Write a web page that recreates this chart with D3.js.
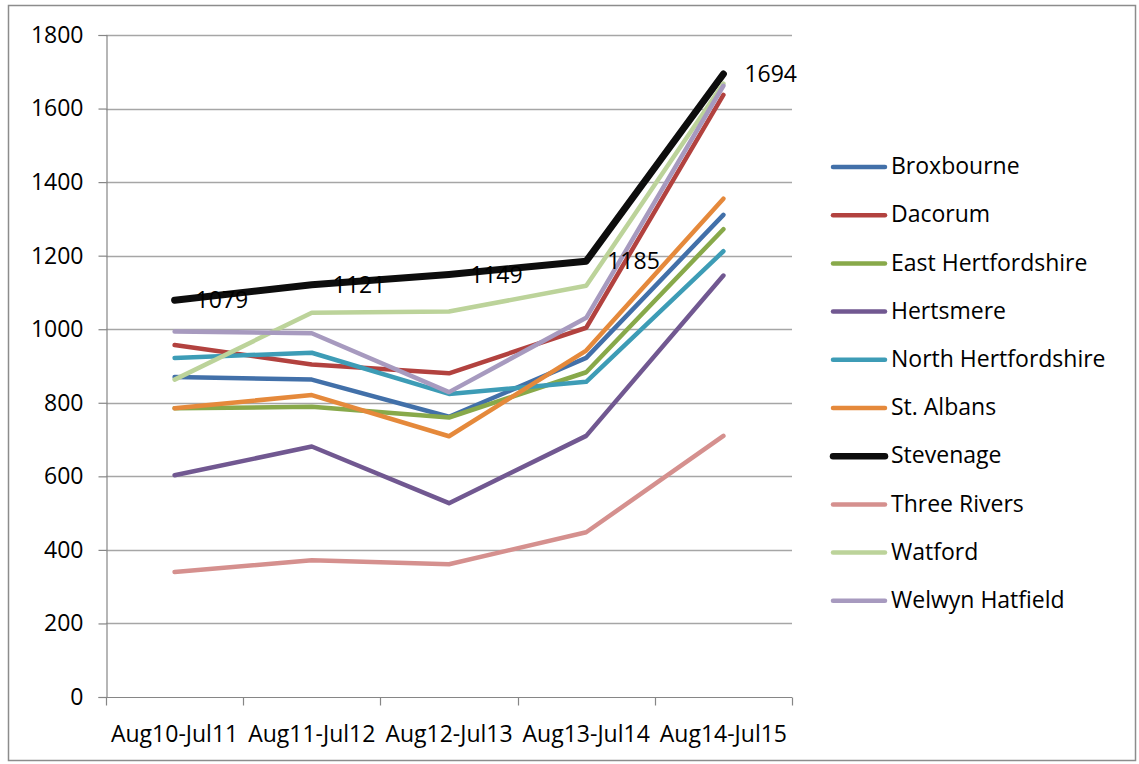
<!DOCTYPE html>
<html>
<head>
<meta charset="utf-8">
<script src="https://cdn.jsdelivr.net/npm/d3@7"></script>
<style>
  html, body { margin: 0; padding: 0; background: #fff; }
  svg { display: block; }
  text { font-family: "Open Sans", "Liberation Sans", sans-serif; fill: #000; }
</style>
</head>
<body>
<svg id="chart" width="1139" height="764"></svg>
<script>
// Periods on the x axis
const periods = ["Aug10-Jul11", "Aug11-Jul12", "Aug12-Jul13", "Aug13-Jul14", "Aug14-Jul15"];

// District names (legend order)
const districts = ["Broxbourne", "Dacorum", "East Hertfordshire", "Hertsmere", "North Hertfordshire",
                   "St. Albans", "Stevenage", "Three Rivers", "Watford", "Welwyn Hatfield"];

// Values per district, one per period
const broxbourne   = [870, 863, 762, 922, 1311];
const dacorum      = [957, 904, 880, 1004, 1637];
const eastHerts    = [785, 789, 760, 883, 1272];
const hertsmere    = [603, 681, 527, 710, 1146];
const northHerts   = [922, 936, 824, 857, 1212];
const stAlbans     = [785, 821, 709, 942, 1355];
const stevenage    = [1079, 1121, 1149, 1185, 1694];
const threeRivers  = [340, 372, 361, 448, 710];
const watford      = [863, 1045, 1048, 1118, 1668];
const welwyn       = [994, 989, 829, 1031, 1662];

const seriesValues = [broxbourne, dacorum, eastHerts, hertsmere, northHerts,
                      stAlbans, stevenage, threeRivers, watford, welwyn];

const seriesColors = ["#4270A9", "#B2423F", "#88A94A", "#715891", "#3D9CB6",
                      "#E5893B", "#0D0D0D", "#D5908E", "#BCD39A", "#A79ABF"];

// Only Stevenage carries value labels
const labelled = "Stevenage";

// Y axis ticks
const yTicks = [0, 200, 400, 600, 800, 1000, 1200, 1400, 1600, 1800];

const fontSize = "23px";

const svg = d3.select("#chart");

// Outer chart frame
svg.append("rect")
  .attr("x", 8.5).attr("y", 5.5)
  .attr("width", 1127).attr("height", 755)
  .attr("fill", "#fff").attr("stroke", "#8c8c8c").attr("stroke-width", 1.5);

const plot = { left: 106, right: 792, top: 35, bottom: 697 };

const x = d3.scaleBand().domain(periods).range([plot.left, plot.right]).padding(0);
const y = d3.scaleLinear().domain([0, 1800]).range([plot.bottom, plot.top]);

// Horizontal gridlines
svg.append("g")
  .selectAll("line")
  .data(yTicks.filter(t => t > 0))
  .join("line")
  .attr("x1", plot.left).attr("x2", plot.right)
  .attr("y1", d => Math.round(y(d)) + 0.5).attr("y2", d => Math.round(y(d)) + 0.5)
  .attr("stroke", "#a6a6a6").attr("stroke-width", 1.3);

// Y axis
const yAxis = svg.append("g")
  .attr("transform", `translate(${plot.left + 0.5},0)`)
  .call(d3.axisLeft(y).tickValues(yTicks).tickSize(8).tickPadding(15).tickFormat(d3.format("d")));
yAxis.select(".domain").attr("stroke", "#868686").attr("stroke-width", 1.2);
yAxis.selectAll(".tick line").attr("stroke", "#868686").attr("stroke-width", 1.2);
yAxis.selectAll(".tick text")
  .style("font-family", "'Open Sans', sans-serif")
  .style("font-size", fontSize).attr("fill", "#000");

// X axis: ticks sit on the band boundaries, labels at band centres
const xAxisG = svg.append("g").attr("transform", `translate(0,${plot.bottom + 0.5})`);
xAxisG.append("line")
  .attr("x1", plot.left).attr("x2", plot.right)
  .attr("stroke", "#868686").attr("stroke-width", 1.2);
const boundaries = periods.map(p => x(p)).concat([x(periods[periods.length - 1]) + x.bandwidth()]);
xAxisG.selectAll("line.tk")
  .data(boundaries)
  .join("line")
  .attr("class", "tk")
  .attr("x1", d => Math.round(d) + 0.5).attr("x2", d => Math.round(d) + 0.5)
  .attr("y1", 0).attr("y2", 8)
  .attr("stroke", "#868686").attr("stroke-width", 1.2);
xAxisG.selectAll("text")
  .data(periods)
  .join("text")
  .attr("x", d => x(d) + x.bandwidth() / 2)
  .attr("y", 44)
  .attr("text-anchor", "middle")
  .style("font-size", fontSize)
  .text(d => d);

// Series lines
const line = d3.line()
  .x((d, i) => x(periods[i]) + x.bandwidth() / 2)
  .y(d => y(d));

const linesG = svg.append("g");
districts.forEach((name, k) => {
  linesG.append("path")
    .datum(seriesValues[k])
    .attr("d", line)
    .attr("fill", "none")
    .attr("stroke", seriesColors[k])
    .attr("stroke-width", name === labelled ? 7 : 4.5)
    .attr("stroke-linejoin", "round")
    .attr("stroke-linecap", "round");
});

// Value labels for Stevenage
const labIdx = districts.indexOf(labelled);
svg.append("g")
  .selectAll("text")
  .data(seriesValues[labIdx])
  .join("text")
  .attr("x", (d, i) => x(periods[i]) + x.bandwidth() / 2 + 21)
  .attr("y", d => y(d) + 2)
  .attr("dominant-baseline", "middle")
  .style("font-size", fontSize)
  .text(d => d);

// Legend
const legend = svg.append("g");
const legTop = 167, legStep = 48.2;
districts.forEach((name, k) => {
  const ly = legTop + k * legStep;
  legend.append("line")
    .attr("x1", 833).attr("x2", 885)
    .attr("y1", ly).attr("y2", ly)
    .attr("stroke", seriesColors[k])
    .attr("stroke-width", name === labelled ? 6.5 : 4.5)
    .attr("stroke-linecap", "round");
  legend.append("text")
    .attr("x", 891).attr("y", ly + 1)
    .attr("dominant-baseline", "middle")
    .style("font-size", fontSize)
    .text(name);
});
</script>
</body>
</html>
